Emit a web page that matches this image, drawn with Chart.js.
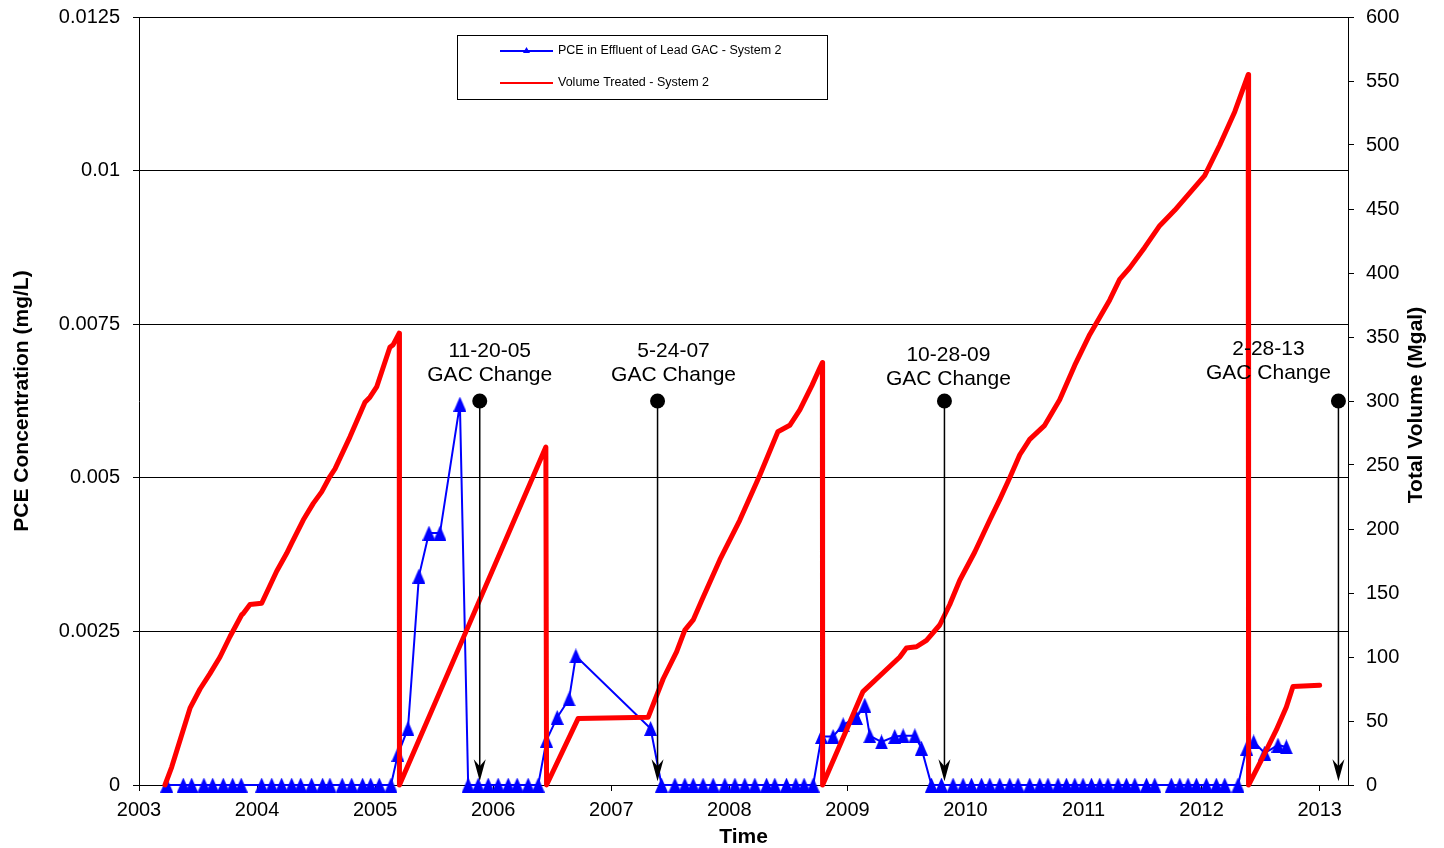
<!DOCTYPE html>
<html>
<head>
<meta charset="utf-8">
<script src="https://cdn.jsdelivr.net/npm/chart.js@4/dist/chart.umd.min.js"></script>
<style>
html, body { margin: 0; padding: 0; background: #fff; }
</style>
</head>
<body>
<canvas id="chart" width="1444" height="848"></canvas>
<script>
// PCE in effluent of lead GAC (mg/L), dates as decimal years
const pceYears = [
  2003.235, 2003.375, 2003.446, 2003.550, 2003.624, 2003.714, 2003.793, 2003.866,
  2004.039, 2004.124, 2004.208, 2004.293, 2004.369, 2004.462, 2004.555, 2004.617,
  2004.721, 2004.801, 2004.894, 2004.962, 2005.035, 2005.134,
  2005.193, 2005.278, 2005.371, 2005.456, 2005.549, 2005.718,
  2005.788, 2005.873, 2005.958, 2006.042, 2006.127, 2006.203, 2006.296, 2006.381,
  2006.452, 2006.542, 2006.643, 2006.700, 2007.333,
  2007.426, 2007.539, 2007.623, 2007.694, 2007.778, 2007.863, 2007.962, 2008.047,
  2008.131, 2008.216, 2008.315, 2008.385, 2008.484, 2008.563, 2008.633, 2008.710,
  2008.781, 2008.879, 2008.964, 2009.077, 2009.147, 2009.190, 2009.289, 2009.401,
  2009.472, 2009.571, 2009.627,
  2009.712, 2009.797, 2009.895, 2009.980, 2010.051, 2010.136, 2010.206, 2010.290,
  2010.375, 2010.445, 2010.544, 2010.629, 2010.699, 2010.784, 2010.855, 2010.926,
  2010.996, 2011.067, 2011.137, 2011.207, 2011.292, 2011.363, 2011.434, 2011.533,
  2011.603, 2011.744, 2011.815, 2011.885, 2011.956, 2012.040, 2012.125, 2012.196,
  2012.308,
  2012.382, 2012.441, 2012.534, 2012.647, 2012.718
];
const pceValues = [
  0, 0, 0, 0, 0, 0, 0, 0,
  0, 0, 0, 0, 0, 0, 0, 0,
  0, 0, 0, 0, 0, 0,
  0.0005, 0.00092, 0.0034, 0.0041, 0.0041, 0.0062,
  0, 0, 0, 0, 0, 0, 0, 0,
  0.00073, 0.0011, 0.0014, 0.0021, 0.00092,
  0, 0, 0, 0, 0, 0, 0, 0,
  0, 0, 0, 0, 0, 0, 0, 0,
  0.00079, 0.00079, 0.00098, 0.0011, 0.0013, 0.0008, 0.0007, 0.00079,
  0.0008, 0.0008, 0.0006,
  0, 0, 0, 0, 0, 0, 0, 0,
  0, 0, 0, 0, 0, 0, 0, 0,
  0, 0, 0, 0, 0, 0, 0, 0,
  0, 0, 0, 0, 0, 0, 0, 0,
  0,
  0.0006, 0.0007, 0.00052, 0.00065, 0.00062
];

// Volume treated (Mgal), resets at each GAC change
const volYears = [
  2003.220, 2003.277, 2003.432, 2003.517, 2003.601, 2003.686, 2003.771, 2003.870,
  2003.883, 2003.940, 2004.039, 2004.166, 2004.251, 2004.293, 2004.391, 2004.476,
  2004.547, 2004.617, 2004.660, 2004.787, 2004.914, 2004.956, 2005.013, 2005.125,
  2005.153, 2005.204,
  2005.206, 2005.775, 2006.446,
  2006.452, 2006.720, 2007.313, 2007.440, 2007.553, 2007.623, 2007.694, 2007.765,
  2007.920, 2008.089, 2008.258, 2008.411, 2008.512, 2008.597, 2008.699, 2008.767,
  2008.788,
  2008.790, 2008.992, 2009.132, 2009.444, 2009.500, 2009.585, 2009.670, 2009.782,
  2009.867, 2009.952, 2010.079, 2010.206, 2010.290, 2010.375, 2010.460, 2010.544,
  2010.671, 2010.798, 2010.926, 2011.053, 2011.222, 2011.306, 2011.391, 2011.518,
  2011.645, 2011.772, 2012.026, 2012.154, 2012.281, 2012.395,
  2012.398, 2012.520, 2012.633, 2012.718, 2012.774, 2013.000
];
const volValues = [
  0, 14, 60, 75, 87, 100, 116, 133,
  134, 141, 142, 167, 181, 189, 207, 220,
  229, 241, 247, 272, 299, 303, 311, 342,
  344, 353,
  0, 121, 264,
  0, 52, 53, 83, 104, 121, 129, 144,
  176, 207, 242, 276, 281, 293, 312, 326,
  330,
  0, 43, 73, 100, 107, 108, 113, 125,
  141, 160, 182, 207, 223, 240, 258, 270,
  281, 301, 328, 352, 379, 395, 404, 420,
  437, 449, 476, 500, 526, 555,
  0, 22, 43, 61, 77, 78
];

const xTickYears = [2003, 2004, 2005, 2006, 2007, 2008, 2009, 2010, 2011, 2012, 2013];

// GAC change events
const gacDates = [2005.886, 2007.392, 2009.822, 2013.159];
const gacLabels = ['11-20-05', '5-24-07', '10-28-09', '2-28-13'];
const gacText = 'GAC Change';
const gacMarkerLevel = 300;   // Mgal level of the dot
const gacArrowLevel = 3;      // Mgal level of the arrow tip

const seriesNames = ['PCE in Effluent of Lead GAC - System 2', 'Volume Treated - System 2'];

const FONT = '"Liberation Sans", Arial, sans-serif';
const labelShift = [[10, -50], [16, -50], [4, -46], [-70, -52]];

// Excel-like triangle marker (a bit taller than wide)
const tri = document.createElement('canvas');
tri.width = 13; tri.height = 15;
(function () {
  const c = tri.getContext('2d');
  c.fillStyle = '#0000FF';
  c.beginPath();
  c.moveTo(6.5, 0);
  c.lineTo(13, 15);
  c.lineTo(0, 15);
  c.closePath();
  c.fill();
})();

const overlay = {
  id: 'overlay',
  afterDraw(chart) {
    const ctx = chart.ctx;
    const xs = chart.scales.x, vs = chart.scales.y2;
    const area = chart.chartArea;
    ctx.save();

    // GAC change markers
    gacDates.forEach((d, i) => {
      const px = xs.getPixelForValue(d);
      const top = vs.getPixelForValue(gacMarkerLevel);
      const tip = vs.getPixelForValue(gacArrowLevel);
      ctx.strokeStyle = '#000';
      ctx.fillStyle = '#000';
      ctx.lineWidth = 1.5;
      ctx.beginPath();
      ctx.moveTo(px, top);
      ctx.lineTo(px, tip - 12);
      ctx.stroke();
      ctx.beginPath();
      ctx.moveTo(px, tip);
      ctx.lineTo(px - 6, tip - 22);
      ctx.lineTo(px, tip - 15);
      ctx.lineTo(px + 6, tip - 22);
      ctx.closePath();
      ctx.fill();
      ctx.beginPath();
      ctx.arc(px, top, 7.5, 0, Math.PI * 2);
      ctx.fill();

      ctx.font = '21px ' + FONT;
      ctx.textAlign = 'center';
      ctx.textBaseline = 'middle';
      const lx = px + labelShift[i][0];
      const ly = top + labelShift[i][1];
      ctx.fillText(gacLabels[i], lx, ly);
      ctx.fillText(gacText, lx, ly + 24);
    });

    // legend box
    const bx = area.left + 318, by = area.top + 18, bw = 370, bh = 64;
    ctx.fillStyle = '#fff';
    ctx.fillRect(bx, by, bw, bh);
    ctx.strokeStyle = '#000';
    ctx.lineWidth = 1;
    ctx.strokeRect(bx + 0.5, by + 0.5, bw, bh);
    const colors = ['#0000FF', '#FF0000'];
    ctx.font = '12.5px ' + FONT;
    ctx.textAlign = 'left';
    ctx.textBaseline = 'middle';
    seriesNames.forEach((name, i) => {
      const ly = by + 16 + i * 32;
      ctx.strokeStyle = colors[i];
      ctx.lineWidth = 2;
      ctx.beginPath();
      ctx.moveTo(bx + 43, ly);
      ctx.lineTo(bx + 96, ly);
      ctx.stroke();
      if (i === 0) {
        ctx.fillStyle = colors[0];
        ctx.beginPath();
        ctx.moveTo(bx + 69.5, ly - 4);
        ctx.lineTo(bx + 73, ly + 2);
        ctx.lineTo(bx + 66, ly + 2);
        ctx.closePath();
        ctx.fill();
      }
      ctx.fillStyle = '#000';
      ctx.fillText(name, bx + 101, ly);
    });

    // right axis title, reading upward
    ctx.font = 'bold 21px ' + FONT;
    ctx.fillStyle = '#000';
    ctx.textAlign = 'center';
    ctx.textBaseline = 'middle';
    ctx.translate(vs.right - 28, (area.top + area.bottom) / 2 + 4);
    ctx.rotate(-Math.PI / 2);
    ctx.fillText('Total Volume (Mgal)', 0, 0);
    ctx.restore();
  }
};

new Chart(document.getElementById('chart').getContext('2d'), {
  type: 'line',
  data: {
    datasets: [{
      label: seriesNames[1],
      data: volYears.map((x, i) => ({ x: x, y: volValues[i] })),
      yAxisID: 'y2',
      borderColor: '#FF0000',
      borderWidth: 5,
      borderJoinStyle: 'round',
      borderCapStyle: 'round',
      pointRadius: 0,
      tension: 0,
      clip: false,
      order: 0
    }, {
      label: seriesNames[0],
      data: pceYears.map((x, i) => ({ x: x, y: pceValues[i] })),
      yAxisID: 'y',
      borderColor: '#0000FF',
      borderWidth: 2,
      pointStyle: tri,
      pointRadius: 7,
      tension: 0,
      clip: false,
      order: 1
    }]
  },
  options: {
    responsive: false,
    animation: false,
    layout: { padding: { top: 17, left: 0, right: 0, bottom: 0 } },
    plugins: {
      legend: { display: false },
      tooltip: { enabled: false }
    },
    scales: {
      x: {
        type: 'linear',
        position: 'bottom',
        min: 2003,
        max: 2013.24,
        afterBuildTicks: (s) => { s.ticks = xTickYears.map(v => ({ value: v })); },
        afterFit: (s) => { s.height = 63; s.paddingLeft = 0; s.paddingRight = 0; },
        ticks: {
          autoSkip: false,
          maxRotation: 0,
          color: '#000',
          font: { family: FONT, size: 20 },
          padding: 7,
          callback: (v) => String(v)
        },
        grid: { drawOnChartArea: false, drawTicks: true, tickLength: 6, color: '#000' },
        border: { display: true, color: '#000', width: 1 },
        title: {
          display: true,
          text: 'Time',
          color: '#000',
          font: { family: FONT, size: 21, weight: 'bold' },
          padding: { top: 0, bottom: -2 }
        }
      },
      y: {
        position: 'left',
        min: 0,
        max: 0.0125,
        afterFit: (s) => { s.width = 139; s.paddingTop = 0; s.paddingBottom = 0; },
        ticks: {
          stepSize: 0.0025,
          color: '#000',
          font: { family: FONT, size: 20 },
          padding: 13,
          callback: (v) => String(+v.toFixed(4))
        },
        grid: { color: '#000', lineWidth: 1, drawTicks: true, tickLength: 6 },
        border: { display: true, color: '#000', width: 1 },
        title: {
          display: true,
          text: 'PCE Concentration (mg/L)',
          color: '#000',
          font: { family: FONT, size: 21, weight: 'bold' },
          padding: { top: 10, bottom: 0 }
        }
      },
      y2: {
        position: 'right',
        min: 0,
        max: 600,
        afterFit: (s) => { s.width = 96; s.paddingTop = 0; s.paddingBottom = 0; },
        ticks: {
          stepSize: 50,
          color: '#000',
          font: { family: FONT, size: 20 },
          padding: 12
        },
        grid: { drawOnChartArea: false, drawTicks: true, tickLength: 6, color: '#000' },
        border: { display: true, color: '#000', width: 1 }
      }
    }
  },
  plugins: [overlay]
});
</script>
</body>
</html>
